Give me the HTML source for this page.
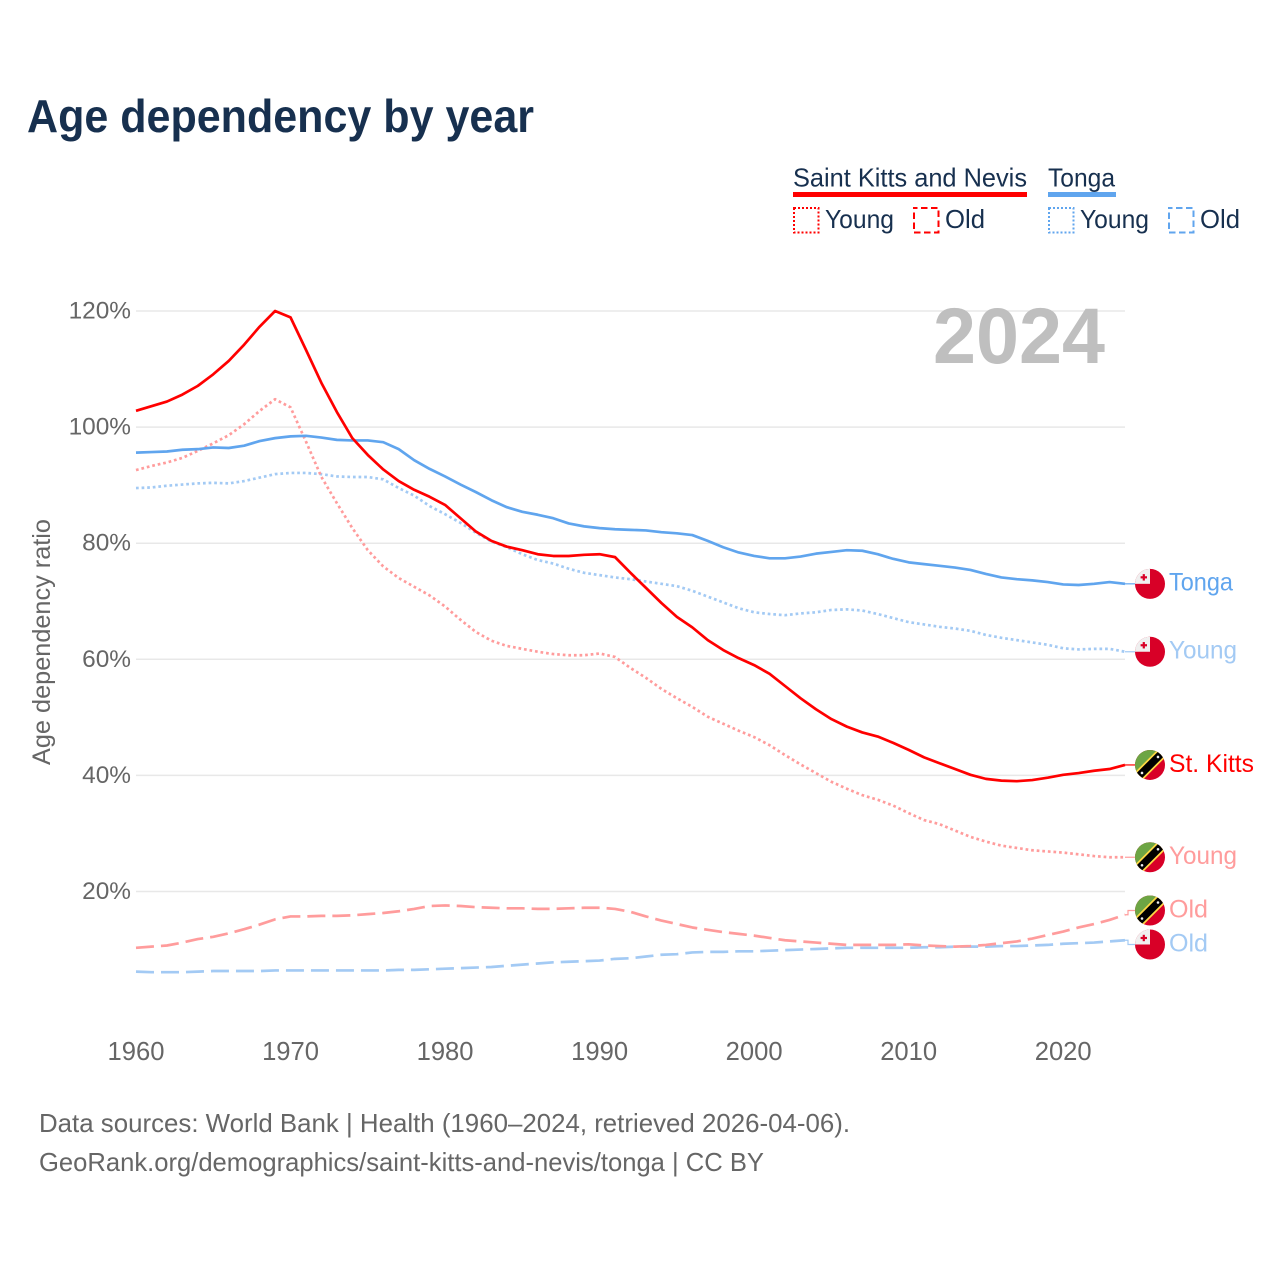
<!DOCTYPE html>
<html lang="en">
<head>
<meta charset="utf-8">
<title>Age dependency by year</title>
<style>
html,body{margin:0;padding:0;background:#fff;}
svg{display:block;font-family:"Liberation Sans",sans-serif;}
</style>
</head>
<body>
<svg id="chart" xmlns="http://www.w3.org/2000/svg" width="1280" height="1280" viewBox="0 0 1280 1280">
  <rect x="0" y="0" width="1280" height="1280" fill="#fff"/>
  <text x="27" y="132" font-size="46" font-weight="700" fill="#17304f" textLength="507" lengthAdjust="spacingAndGlyphs">Age dependency by year</text>

  <g font-size="26" fill="#17304f">
    <text x="793" y="186.5" textLength="234" lengthAdjust="spacingAndGlyphs">Saint Kitts and Nevis</text>
    <rect x="793" y="192" width="234" height="5" fill="#ff0000"/>
    <text x="1048" y="186.5" textLength="67" lengthAdjust="spacingAndGlyphs">Tonga</text>
    <rect x="1048" y="192" width="68" height="5" fill="#60a5ee"/>

    <rect x="794" y="208" width="24.5" height="24.5" fill="none" stroke="#ff0000" stroke-width="2" stroke-dasharray="2 2"/>
    <text x="825" y="228" textLength="69" lengthAdjust="spacingAndGlyphs">Young</text>
    <rect x="914" y="208" width="24.5" height="24.5" fill="none" stroke="#ff0000" stroke-width="2" stroke-dasharray="6.5 3.5" stroke-dashoffset="3"/>
    <text x="945" y="228" textLength="40" lengthAdjust="spacingAndGlyphs">Old</text>

    <rect x="1049" y="208" width="24.5" height="24.5" fill="none" stroke="#60a5ee" stroke-width="2" stroke-dasharray="2 2"/>
    <text x="1080" y="228" textLength="69" lengthAdjust="spacingAndGlyphs">Young</text>
    <rect x="1169" y="208" width="24.5" height="24.5" fill="none" stroke="#60a5ee" stroke-width="2" stroke-dasharray="6.5 3.5" stroke-dashoffset="3"/>
    <text x="1200" y="228" textLength="40" lengthAdjust="spacingAndGlyphs">Old</text>
  </g>

  <g id="grid-layer"></g>
  <g id="tick-layer"></g>
  <text x="933" y="363" font-size="79" font-weight="700" fill="#bfbfbf" textLength="172" lengthAdjust="spacingAndGlyphs">2024</text>
  <text x="0" y="0" transform="translate(50,765) rotate(-90)" font-size="25" fill="#666666" textLength="246" lengthAdjust="spacingAndGlyphs">Age dependency ratio</text>
  <g id="line-layer"></g>
  <g id="label-layer"></g>

  <text x="39" y="1132" font-size="26" fill="#666666" textLength="811" lengthAdjust="spacingAndGlyphs">Data sources: World Bank | Health (1960–2024, retrieved 2026-04-06).</text>
  <text x="39" y="1171" font-size="26" fill="#666666" textLength="725" lengthAdjust="spacingAndGlyphs">GeoRank.org/demographics/saint-kitts-and-nevis/tonga | CC BY</text>
</svg>

<script>
const years = [1960,1961,1962,1963,1964,1965,1966,1967,1968,1969,
  1970,1971,1972,1973,1974,1975,1976,1977,1978,1979,
  1980,1981,1982,1983,1984,1985,1986,1987,1988,1989,
  1990,1991,1992,1993,1994,1995,1996,1997,1998,1999,
  2000,2001,2002,2003,2004,2005,2006,2007,2008,2009,
  2010,2011,2012,2013,2014,2015,2016,2017,2018,2019,
  2020,2021,2022,2023,2024];

const stKittsTotal = [102.8,103.6,104.4,105.6,107.1,109.1,111.4,114.2,117.3,120.0,
  118.9,113.3,107.6,102.6,98.1,95.2,92.7,90.7,89.2,88.0,
  86.6,84.3,82.0,80.4,79.4,78.8,78.1,77.8,77.8,78.0,
  78.1,77.6,74.9,72.3,69.7,67.3,65.5,63.3,61.6,60.2,
  59.0,57.5,55.4,53.3,51.4,49.7,48.4,47.4,46.7,45.6,
  44.4,43.1,42.1,41.1,40.1,39.4,39.1,39.0,39.2,39.6,
  40.1,40.4,40.8,41.1,41.8];

const stKittsYoung = [92.6,93.3,93.9,94.7,95.9,97.2,98.6,100.5,102.8,104.8,
  103.4,97.5,91.4,86.9,82.6,78.8,76.0,74.0,72.5,71.0,
  69.1,66.8,64.7,63.2,62.3,61.8,61.3,60.9,60.7,60.7,
  61.0,60.4,58.5,56.8,54.9,53.3,51.8,50.1,48.9,47.7,
  46.6,45.2,43.5,41.9,40.4,38.9,37.7,36.6,35.8,34.8,
  33.5,32.3,31.6,30.5,29.4,28.6,27.9,27.5,27.1,26.9,
  26.7,26.4,26.1,25.9,25.9];

const stKittsOld = [10.3,10.5,10.7,11.2,11.8,12.2,12.8,13.5,14.3,15.2,
  15.7,15.7,15.8,15.8,15.9,16.1,16.3,16.6,17.0,17.5,
  17.6,17.5,17.3,17.2,17.1,17.1,17.0,17.0,17.1,17.2,
  17.2,17.0,16.5,15.7,15.0,14.4,13.8,13.4,13.0,12.7,
  12.4,12.0,11.6,11.4,11.2,11.0,10.8,10.8,10.8,10.8,
  10.9,10.7,10.6,10.5,10.6,10.8,11.1,11.4,11.9,12.5,
  13.1,13.8,14.4,15.1,16.0];

const tongaTotal = [95.6,95.7,95.8,96.1,96.2,96.5,96.4,96.8,97.6,98.1,
  98.4,98.5,98.2,97.8,97.7,97.7,97.4,96.2,94.3,92.8,
  91.5,90.1,88.8,87.4,86.2,85.4,84.9,84.3,83.4,82.9,
  82.6,82.4,82.3,82.2,81.9,81.7,81.4,80.4,79.3,78.4,
  77.8,77.4,77.4,77.7,78.2,78.5,78.8,78.7,78.1,77.3,
  76.7,76.4,76.1,75.8,75.4,74.7,74.1,73.8,73.6,73.3,
  72.9,72.8,73.0,73.3,73.0];

const tongaYoung = [89.5,89.6,89.9,90.1,90.3,90.4,90.3,90.7,91.3,91.9,
  92.1,92.1,91.9,91.5,91.4,91.4,91.0,89.5,88.2,86.4,
  85.0,83.5,81.8,80.3,79.3,78.1,77.1,76.5,75.6,74.9,
  74.5,74.1,73.8,73.4,73.0,72.6,71.8,70.8,69.8,68.8,
  68.1,67.8,67.6,67.9,68.1,68.5,68.6,68.4,67.8,67.1,
  66.4,66.0,65.6,65.3,64.9,64.2,63.7,63.3,62.9,62.5,
  61.9,61.7,61.8,61.8,61.3];

const tongaOld = [6.2,6.1,6.1,6.1,6.2,6.3,6.3,6.3,6.3,6.4,
  6.4,6.4,6.4,6.4,6.4,6.4,6.4,6.5,6.5,6.6,
  6.7,6.8,6.9,7.0,7.2,7.4,7.6,7.8,7.9,8.0,
  8.1,8.4,8.5,8.8,9.1,9.2,9.5,9.6,9.6,9.7,
  9.7,9.8,9.9,10.0,10.1,10.2,10.3,10.3,10.3,10.3,
  10.3,10.4,10.4,10.5,10.5,10.5,10.6,10.6,10.7,10.8,
  11.0,11.1,11.2,11.4,11.6];

const yTickValues = [20,40,60,80,100,120];
const yTickLabels = ["20%","40%","60%","80%","100%","120%"];
const xTickValues = [1960,1970,1980,1990,2000,2010,2020];
const xTickLabels = ["1960","1970","1980","1990","2000","2010","2020"];

const NS = "http://www.w3.org/2000/svg";
const plotLeft = 136, plotRight = 1125;
const firstYear = 1960, lastYear = 2024;
const flagCx = 1150, flagR = 15, labelX = 1169, minLabelGap = 34;

function xScale(year) {
  return plotLeft + (year - firstYear) / (lastYear - firstYear) * (plotRight - plotLeft);
}
function yScale(value) {
  return 891.5 - (value - 20) * 5.805;
}
function make(tag, attrs, parent) {
  const el = document.createElementNS(NS, tag);
  for (const key in attrs) el.setAttribute(key, attrs[key]);
  parent.appendChild(el);
  return el;
}

const gridLayer = document.getElementById("grid-layer");
const tickLayer = document.getElementById("tick-layer");
const lineLayer = document.getElementById("line-layer");
const labelLayer = document.getElementById("label-layer");

yTickValues.forEach(function (value, i) {
  const gridLine = make("line", {x1: plotLeft, x2: plotRight, y1: yScale(value), y2: yScale(value), stroke: "#e8e8e8", "stroke-width": 1.5}, gridLayer);
  
  
  const tick = make("text", {x: 131, y: yScale(value) + 7.5, "text-anchor": "end", "font-size": 24.4, fill: "#666666"}, tickLayer);
  
  
  tick.textContent = yTickLabels[i];
});

xTickValues.forEach(function (year, i) {
  const tick = make("text", {x: xScale(year), y: 1060, "text-anchor": "middle", "font-size": 25.6, fill: "#666666"}, tickLayer);
  
  
  tick.textContent = xTickLabels[i];
});

const RED = "#ff0000", BLUE = "#60a5ee", PINK = "#ff9c9c", LIGHT_BLUE = "#a3caf4";
const DOTS = "2.7 2.9", DASHES = "18 7";

const seriesList = [
  {key: "tonga-old",       values: tongaOld,     color: LIGHT_BLUE, dash: DASHES, label: "Old",      flag: "tonga"},
  {key: "st-kitts-old",    values: stKittsOld,   color: PINK,       dash: DASHES, label: "Old",      flag: "kitts"},
  {key: "tonga-young",     values: tongaYoung,   color: LIGHT_BLUE, dash: DOTS,   label: "Young",    flag: "tonga"},
  {key: "st-kitts-young",  values: stKittsYoung, color: PINK,       dash: DOTS,   label: "Young",    flag: "kitts"},
  {key: "tonga-total",     values: tongaTotal,   color: BLUE,       dash: "",     label: "Tonga",    flag: "tonga"},
  {key: "st-kitts-total",  values: stKittsTotal, color: RED,        dash: "",     label: "St. Kitts", flag: "kitts"}
];

seriesList.forEach(function (series) {
  const d = series.values.map(function (value, i) {
    return (i ? "L" : "M") + xScale(years[i]).toFixed(2) + " " + yScale(value).toFixed(2);
  }).join(" ");
  const path = make("path", {d: d, fill: "none", stroke: series.color, "stroke-width": 2.7, "stroke-linejoin": "round"}, lineLayer);
  if (series.dash) path.setAttribute("stroke-dasharray", series.dash);
  
  
});

/* End labels: start at each series' last value, then spread apart to avoid overlap. */
const placed = seriesList.map(function (series) {
  const endY = yScale(series.values[series.values.length - 1]);
  return {series: series, endY: endY, labelY: endY};
}).sort(function (a, b) { return a.endY - b.endY; });

for (let pass = 0; pass < 20; pass++) {
  for (let i = 1; i < placed.length; i++) {
    const overlap = minLabelGap - (placed[i].labelY - placed[i - 1].labelY);
    if (overlap > 0) {
      placed[i - 1].labelY -= overlap / 2;
      placed[i].labelY += overlap / 2;
    }
  }
}

function drawTongaFlag(group, cy, clipId) {
  make("circle", {cx: flagCx, cy: cy, r: flagR, fill: "#d80027"}, group);
  const clipped = make("g", {"clip-path": "url(#" + clipId + ")"}, group);
  make("rect", {x: flagCx - flagR, y: cy - flagR, width: flagR, height: flagR, fill: "#f0f0f0"}, clipped);
  make("rect", {x: flagCx - 7.3, y: cy - 9.7, width: 2.2, height: 6.4, fill: "#d80027"}, clipped);
  make("rect", {x: flagCx - 9.4, y: cy - 7.6, width: 6.4, height: 2.2, fill: "#d80027"}, clipped);
}
function drawKittsFlag(group, cy, clipId) {
  make("circle", {cx: flagCx, cy: cy, r: flagR, fill: "#d80027"}, group);
  const clipped = make("g", {"clip-path": "url(#" + clipId + ")"}, group);
  make("path", {d: "M" + (flagCx - flagR) + " " + (cy + flagR) + " L" + (flagCx - flagR) + " " + (cy - flagR) + " L" + (flagCx + flagR) + " " + (cy - flagR) + " Z", fill: "#6da544"}, clipped);
  make("line", {x1: flagCx - flagR, y1: cy + flagR, x2: flagCx + flagR, y2: cy - flagR, stroke: "#ffda44", "stroke-width": 11}, clipped);
  make("line", {x1: flagCx - flagR, y1: cy + flagR, x2: flagCx + flagR, y2: cy - flagR, stroke: "#000000", "stroke-width": 7.5}, clipped);
  [-8, 8].forEach(function (offset) {
    make("circle", {cx: flagCx + offset, cy: cy - offset, r: 1.3, fill: "#f0f0f0"}, clipped);
  });
}

const labelTextWidths = {"Tonga": 64, "Young": 68, "St. Kitts": 85, "Old": 39};

placed.forEach(function (item, i) {
  const series = item.series;
  const leader = make("path", {d: "M" + plotRight + " " + item.endY.toFixed(2) + " H" + (plotRight + 3) + " V" + item.labelY.toFixed(2) + " H" + (flagCx - flagR), fill: "none", stroke: series.color, "stroke-width": 1.2}, labelLayer);
  
  

  const clipId = "flag-clip-" + i;
  const clipPath = make("clipPath", {id: clipId}, labelLayer);
  make("circle", {cx: flagCx, cy: item.labelY, r: flagR}, clipPath);

  const flag = make("g", {}, labelLayer);
  
  
  if (series.flag === "tonga") drawTongaFlag(flag, item.labelY, clipId);
  else drawKittsFlag(flag, item.labelY, clipId);

  const text = make("text", {x: labelX, y: item.labelY + 6.8, "font-size": 25, fill: series.color, textLength: labelTextWidths[series.label], lengthAdjust: "spacingAndGlyphs"}, labelLayer);
  
  
  text.textContent = series.label;
});
</script>
</body>
</html>
